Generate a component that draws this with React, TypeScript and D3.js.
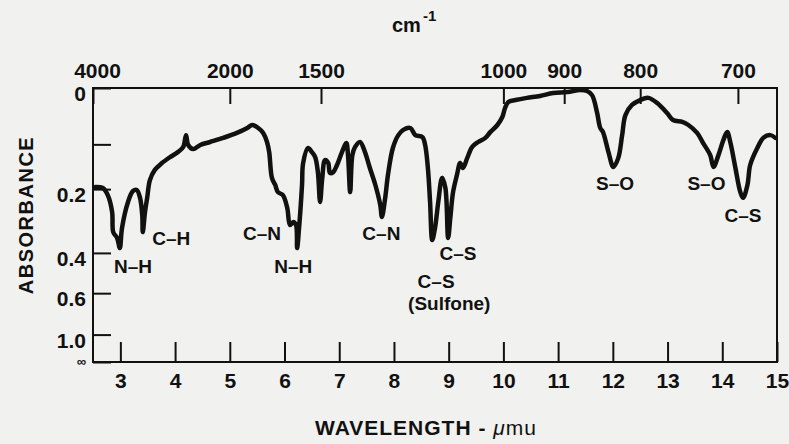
import React, { useEffect, useRef } from "react";
import * as d3 from "d3";

// spectrum: wavelength (µm) and transmittance (%)
const wavelength = [
  2.54, 2.68, 2.77, 2.85, 2.87, 2.94, 2.99, 3.03, 3.14, 3.23,
  3.30, 3.36, 3.40, 3.41, 3.45, 3.49, 3.54, 3.63, 3.76, 3.91,
  4.05, 4.15, 4.20, 4.24, 4.33, 4.46, 4.64, 4.88, 5.13, 5.32,
  5.41, 5.52, 5.61, 5.68, 5.72, 5.77, 5.83, 5.88, 5.97, 6.05,
  6.10, 6.16, 6.21, 6.23, 6.27, 6.32, 6.34, 6.43, 6.50, 6.56,
  6.61, 6.65, 6.69, 6.74, 6.80, 6.83, 6.89, 6.96, 7.05, 7.13,
  7.16, 7.20, 7.24, 7.29, 7.38, 7.47, 7.56, 7.66, 7.75, 7.78,
  7.84, 7.89, 7.98, 8.08, 8.17, 8.30, 8.39, 8.52, 8.57, 8.62,
  8.66, 8.70, 8.75, 8.81, 8.88, 8.94, 8.99, 9.03, 9.08, 9.15,
  9.21, 9.26, 9.34, 9.43, 9.54, 9.67, 9.76, 9.89, 9.98, 10.03,
  10.09, 10.22, 10.43, 10.67, 10.91, 11.17, 11.40, 11.53, 11.62, 11.71,
  11.77, 11.82, 11.92, 12.01, 12.10, 12.17, 12.23, 12.35, 12.50, 12.65,
  12.81, 12.99, 13.10, 13.27, 13.38, 13.54, 13.65, 13.78, 13.84, 13.93,
  14.02, 14.09, 14.15, 14.24, 14.33, 14.38, 14.46, 14.51, 14.64, 14.75,
  14.88, 14.97,
];
const transmittance = [
  63.9, 63.5, 60.9, 54.7, 47.4, 45.3, 41.6, 48.9, 58.4, 62.4,
  62.8, 59.9, 53.6, 47.4, 54.7, 59.9, 66.4, 70.1, 72.6, 74.8,
  76.6, 78.5, 82.8, 79.2, 77.7, 79.2, 80.3, 81.8, 83.6, 85.4,
  86.5, 85.4, 83.6, 80.3, 76.6, 67.2, 64.6, 62.0, 60.9, 56.2,
  50.0, 51.1, 50.0, 41.6, 50.0, 64.6, 72.6, 78.1, 76.6, 74.8,
  69.3, 58.4, 67.2, 73.7, 72.6, 69.0, 69.3, 71.9, 76.6, 79.9,
  75.5, 62.0, 75.5, 78.5, 80.3, 76.6, 70.8, 64.6, 57.3, 52.9,
  59.9, 68.2, 78.1, 82.8, 84.7, 85.4, 82.8, 82.1, 79.2, 70.8,
  58.4, 44.5, 48.9, 58.4, 67.2, 63.5, 45.3, 52.6, 62.0, 68.2,
  72.6, 70.8, 74.5, 78.5, 80.3, 81.8, 83.9, 86.5, 89.4, 92.7,
  94.9, 95.6, 96.4, 97.1, 98.2, 98.5, 99.3, 98.9, 97.4, 91.2,
  85.4, 83.9, 76.6, 71.2, 74.5, 82.8, 90.1, 93.8, 95.6, 96.4,
  94.5, 90.9, 88.3, 87.6, 86.5, 83.6, 79.9, 75.5, 71.2, 75.5,
  81.0, 83.9, 79.9, 70.8, 62.0, 59.9, 64.6, 71.9, 78.1, 81.8,
  82.8, 81.8,
];

// axes
const wavelengthTicks = [3, 4, 5, 6, 7, 8, 9, 10, 11, 12, 13, 14, 15];
const wavenumberTicks = [4000, 2000, 1500, 1000, 900, 800, 700];
const absorbanceTicks = [0, 0.1, 0.2, 0.4, 0.6, 1.0, Infinity];
const absorbanceLabels = ["0", "", "0.2", "0.4", "0.6", "1.0", "∞"];

// band assignments (label, wavelength µm, transmittance % at baseline)
const bandLabels = ["N–H", "C–H", "C–N", "N–H", "C–N", "C–S", "C–S", "(Sulfone)", "S–O", "S–O", "C–S"];
const bandWavelength = [3.23, 3.93, 5.59, 6.16, 7.77, 9.17, 8.77, 9.01, 12.04, 13.71, 14.38];
const bandTransmittance = [32.5, 42.7, 44.5, 32.5, 44.5, 37.2, 27.0, 19.0, 62.8, 62.8, 51.1];

const W = 789;
const H = 444;
const margin = { top: 88, right: 12, bottom: 82, left: 93 };
const FONT = "'Liberation Sans', Arial, Helvetica, sans-serif";

export default function App() {
  const ref = useRef<SVGSVGElement>(null);

  useEffect(() => {
    const svg = d3.select(ref.current);
    svg.selectAll("*").remove();

    const x = d3.scaleLinear().domain([2.5, 15]).range([margin.left, W - margin.right]);
    const y = d3.scaleLinear().domain([0, 100]).range([H - margin.bottom, margin.top]);
    const absToT = (a: number) => (a === Infinity ? 0 : 100 * Math.pow(10, -a));

    svg.append("rect").attr("width", W).attr("height", H).attr("fill", "#f1f1ef");

    // frame
    svg.append("rect")
      .attr("x", x(2.5)).attr("y", y(100))
      .attr("width", x(15) - x(2.5)).attr("height", y(0) - y(100))
      .attr("fill", "none").attr("stroke", "#111").attr("stroke-width", 2);

    // bottom axis (µm)
    const gx = svg.append("g").attr("transform", `translate(0,${y(0)})`)
      .call(d3.axisBottom(x).tickValues(wavelengthTicks).tickFormat(d3.format("d")).tickSizeInner(-20).tickSizeOuter(0).tickPadding(11));

    // top axis (cm-1)
    const gt = svg.append("g").attr("transform", `translate(0,${y(100)})`)
      .call(d3.axisTop(x).tickValues(wavenumberTicks.map((n) => 10000 / n))
        .tickFormat((d, i) => String(wavenumberTicks[i])).tickSizeInner(-16).tickSizeOuter(0).tickPadding(10));
    gt.selectAll(".tick text").attr("dx", (d, i) => (i === 0 ? 4 : 0));

    // left axis (absorbance, linear in transmittance)
    const gy = svg.append("g").attr("transform", `translate(${x(2.5)},0)`)
      .call(d3.axisLeft(y).tickValues(absorbanceTicks.map(absToT))
        .tickFormat((d, i) => absorbanceLabels[i]).tickSizeInner(-18).tickSizeOuter(0).tickPadding(7));
    gy.selectAll(".tick text")
      .attr("dy", (d, i) => (absorbanceLabels[i] === "∞" ? "0.25em" : "0.6em"))
      .attr("font-size", (d, i) => (absorbanceLabels[i] === "∞" ? 13 : 21));

    [gx, gt, gy].forEach((g) => {
      g.select(".domain").remove();
      g.selectAll(".tick line").attr("stroke", "#111").attr("stroke-width", 2);
      g.selectAll(".tick text").attr("fill", "#111").attr("font-family", FONT).attr("font-weight", "bold");
    });
    gx.selectAll(".tick text").attr("font-size", 21);
    gt.selectAll(".tick text").attr("font-size", 21);

    // spectrum
    const points = wavelength.map((w, i) => [w, transmittance[i]] as [number, number]);
    const line = d3.line<[number, number]>()
      .x((d) => x(d[0]))
      .y((d) => y(d[1]))
      .curve(d3.curveCatmullRom.alpha(0.5));
    svg.append("path").datum(points)
      .attr("d", line)
      .attr("fill", "none").attr("stroke", "#111").attr("stroke-width", 4.5)
      .attr("stroke-linejoin", "round").attr("stroke-linecap", "round");

    // band labels
    svg.append("g").selectAll("text").data(bandLabels).join("text")
      .attr("x", (d, i) => x(bandWavelength[i]))
      .attr("y", (d, i) => y(bandTransmittance[i]))
      .attr("text-anchor", "middle")
      .attr("font-family", FONT)
      .attr("font-size", 19)
      .attr("font-weight", "bold")
      .attr("fill", "#111")
      .text((d) => d);

    // titles
    const top = svg.append("text").attr("x", 392).attr("y", 32)
      .attr("font-family", FONT).attr("font-size", 20).attr("font-weight", "bold").attr("fill", "#111");
    top.append("tspan").text("cm");
    top.append("tspan").attr("font-size", 15).attr("dy", -11).attr("dx", 2).text("-1");

    const bottom = svg.append("text").attr("x", 426).attr("y", 435).attr("text-anchor", "middle")
      .attr("font-family", FONT).attr("font-size", 21).attr("fill", "#111").attr("letter-spacing", 1);
    bottom.append("tspan").attr("font-weight", "bold").text("WAVELENGTH - ");
    bottom.append("tspan").attr("font-style", "italic").text("μ");
    bottom.append("tspan").text("mu");

    svg.append("text")
      .attr("transform", `translate(33,215) rotate(-90)`)
      .attr("text-anchor", "middle")
      .attr("font-family", FONT).attr("font-size", 20).attr("font-weight", "bold")
      .attr("letter-spacing", 1.5).attr("fill", "#111")
      .text("ABSORBANCE");
  }, []);

  return (
    <svg
      ref={ref}
      width={W}
      height={H}
      style={{ position: "absolute", left: 0, top: 0, display: "block" }}
    />
  );
}
